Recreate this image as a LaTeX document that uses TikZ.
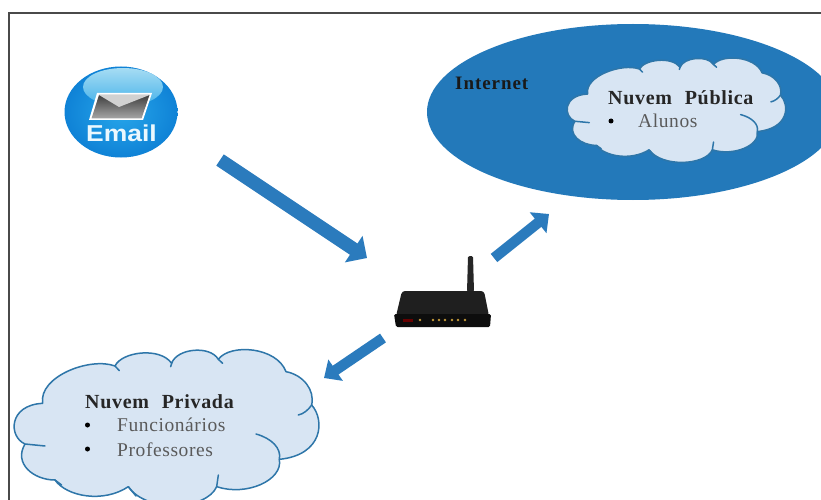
\documentclass[tikz,border=0pt]{standalone}
\usepackage{fontspec}
\setmainfont{Liberation Serif}
\newfontfamily\iconfont{Liberation Sans}
\usetikzlibrary{arrows.meta,shapes.geometric}
\definecolor{netblue}{HTML}{2379BA}
\definecolor{arrowblue}{HTML}{2B7BBD}
\definecolor{cloudfill}{HTML}{D8E5F3}
\definecolor{cloudline}{HTML}{2E76A9}
\definecolor{itemgray}{HTML}{5A5A5A}
\definecolor{framegray}{HTML}{4A4A4A}
\definecolor{ballouter}{HTML}{0F82D6}
\definecolor{ballinner}{HTML}{27A6EA}
\definecolor{glowtop}{HTML}{A6DCF3}
\definecolor{glowbottom}{HTML}{45B2EA}
\definecolor{ledcolor}{HTML}{C49A3A}
\tikzset{
  x=1pt,y=-1pt,
  flowarrow/.style n args={3}{draw=arrowblue,line width=#1,-{Triangle[length=#2,width=#3,fill=arrowblue]}},
  titletext/.style={anchor=base west,inner sep=0pt,font=\fontsize{20}{20}\selectfont\bfseries\addfontfeature{LetterSpace=3.5},text=black!85},
  itemtext/.style={anchor=base west,inner sep=0pt,font=\fontsize{19.5}{19.5}\selectfont\addfontfeature{LetterSpace=3},text=itemgray},
  bulletdot/.style={circle,fill=black,inner sep=0pt,minimum size=5pt},
  cloudshape/.pic={
    \path[fill=cloudfill,draw=cloudline,line width=1.5pt,line join=round]
      (128,190) .. controls (115,110) and (270,50) .. (345,78)
      .. controls (365,35) and (480,20) .. (515,70)
      .. controls (530,25) and (630,15) .. (655,58)
      .. controls (690,10) and (830,20) .. (858,95)
      .. controls (910,105) and (945,150) .. (935,195)
      .. controls (975,240) and (970,345) .. (838,358)
      .. controls (850,420) and (740,470) .. (650,440)
      .. controls (620,510) and (440,520) .. (385,440)
      .. controls (310,490) and (200,470) .. (165,420)
      .. controls (100,420) and (40,370) .. (75,312)
      .. controls (25,290) and (25,195) .. (128,190) -- cycle;
    \path[draw=cloudline,line width=1.5pt,line cap=round]
      (345,78) -- (358,92)
      (515,70) -- (512,80)
      (655,58) -- (668,70)
      (935,195) .. controls (925,210) and (910,222) .. (895,225)
      (768,282) .. controls (815,295) and (845,325) .. (838,358)
      (650,440) -- (655,405)
      (385,440) -- (408,468)
      (165,420) -- (185,435)
      (75,312) -- (135,318);
  }
}
\begin{document}
\begin{tikzpicture}
\path[use as bounding box] (0,0) rectangle (821,500);
\clip (0,0) rectangle (821,500);
\fill[white] (0,0) rectangle (821,500);
% frame
\draw[framegray,line width=1.4pt] (9,500) -- (9,13) -- (821,13);

% internet ellipse
\node[ellipse,fill=netblue,minimum width=412pt,minimum height=176pt,inner sep=0pt] (internet) at (633,112) {};
\node[anchor=base west,inner sep=0pt,font=\fontsize{19}{19}\selectfont\bfseries\addfontfeature{LetterSpace=5},text=black!90] (internetlabel) at (455,90) {Internet};

% clouds: outline given in the private cloud's own coordinates
\pic at (0,340) [xscale=1/3,yscale=1/3] {cloudshape};
\pic at (557,51.6) [xscale=0.239,yscale=0.2233] {cloudshape};

\node[titletext] (privatetitle) at (85,408) {Nuvem\hspace{7pt} Privada};
\node[bulletdot] (pb1) at (87.5,425) {};
\node[itemtext] (funcionarios) at (117,431) {Funcionários};
\node[bulletdot] (pb2) at (87.5,449) {};
\node[itemtext] (professores) at (117,456) {Professores};

\node[titletext] (publictitle) at (608,105) {Nuvem\hspace{7pt} Pública};
\node[bulletdot] (pb3) at (611,121) {};
\node[itemtext] (alunos) at (638,128) {Alunos};

% email icon
\path[inner color=ballinner,outer color=ballouter] (121,112) ellipse [x radius=56.5,y radius=45.5];
\path[top color=glowtop,bottom color=glowbottom] (123,87) ellipse [x radius=40,y radius=19];
\fill[white] (97,93) -- (152,93) -- (143,120) -- (89,120) -- cycle;
\path[top color=black!75,bottom color=black!35] (99,95) -- (149.5,95) -- (141.5,118.5) -- (91.5,118.5) -- cycle;
\fill[black!18] (99,95) -- (149.5,95) -- (119,107) -- cycle;
\node[font=\iconfont\bfseries\fontsize{23}{23}\selectfont,text=white!92!cyan,xscale=1.15,inner sep=0pt,anchor=base] (email) at (121.5,141) {Email};

% router
\fill[black!85,rounded corners=1.5pt] (468,256) -- (473,256) -- (474,292) -- (467,292) -- cycle;
\fill[black!88,rounded corners=3pt] (402,291) -- (484,291) -- (489,316) -- (396,316) -- cycle;
\fill[black!95,rounded corners=1.5pt] (394,314) -- (491,314) -- (490,327) -- (396,327) -- cycle;
\node[inner sep=0pt,minimum width=10pt,minimum height=3pt,fill=black!60!red] (routerlabel) at (408,320) {};
\foreach \lx in {420,433,439,445,452,458,465}{
  \fill[ledcolor] (\lx,320) circle [radius=1.4];
}
\coordinate (router) at (442,310);

% arrows
\coordinate (a1s) at (220,160);
\coordinate (a1e) at (367,258);
\coordinate (a2s) at (494,258);
\coordinate (a2e) at (549,214);
\coordinate (a3s) at (383,338);
\coordinate (a3e) at (324,378);
\draw[flowarrow={13.5pt}{16pt}{31pt}] (a1s) -- (a1e);
\draw[flowarrow={10.5pt}{14pt}{26pt}] (a2s) -- (a2e);
\draw[flowarrow={10.5pt}{14pt}{25pt}] (a3s) -- (a3e);
\end{tikzpicture}
\end{document}
